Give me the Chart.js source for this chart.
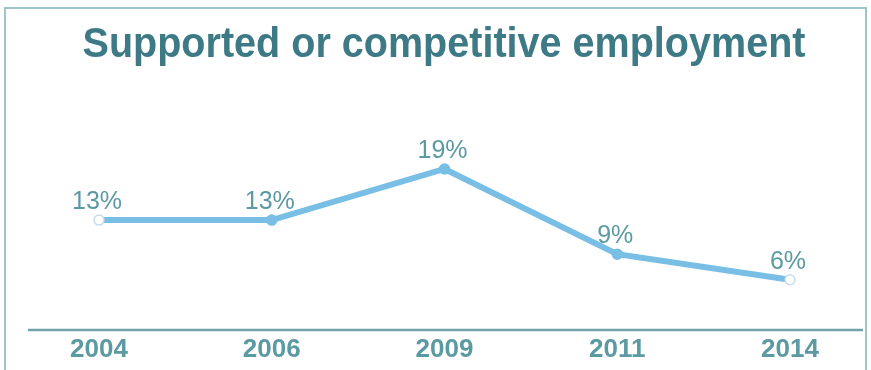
<!DOCTYPE html>
<html>
<head>
<meta charset="utf-8">
<script src="https://cdn.jsdelivr.net/npm/chart.js@4"></script>
<style>
  html, body { margin: 0; padding: 0; background: #fff; }
  #wrap { width: 871px; height: 370px; }
</style>
</head>
<body>
<div id="wrap"><canvas id="chart" width="871" height="370"></canvas></div>
<script>
const years = ["2004", "2006", "2009", "2011", "2014"];
const shares = [13, 13, 19, 9, 6];
const shareLabels = ["13%", "13%", "19%", "9%", "6%"];
const chartTitle = "Supported or competitive employment";

const lineBlue = "#78bee5";
const teal = "#5b9aa2";
const fontFamily = "'Liberation Sans', Arial, sans-serif";

// frame, title, baseline and value labels
const decorations = {
  id: "decorations",
  beforeDraw(chart) {
    const ctx = chart.ctx;
    ctx.save();
    ctx.strokeStyle = "#9cc4c9";
    ctx.lineWidth = 2;
    ctx.strokeRect(5, 8, 861, 380);

    // the title is wider than the plot area, so it is drawn here
    ctx.font = "bold 42px " + fontFamily;
    ctx.fillStyle = "#3d7a85";
    ctx.textAlign = "center";
    ctx.textBaseline = "middle";
    ctx.fillText(chartTitle, 444, 45.5, 723);
    ctx.restore();
  },
  beforeDatasetsDraw(chart) {
    const ctx = chart.ctx;
    ctx.save();
    ctx.strokeStyle = "#6fa4ab";
    ctx.lineWidth = 2.5;
    ctx.beginPath();
    ctx.moveTo(28, 330);
    ctx.lineTo(863, 330);
    ctx.stroke();
    ctx.restore();
  },
  afterDatasetsDraw(chart) {
    const ctx = chart.ctx;
    const meta = chart.getDatasetMeta(0);
    ctx.save();
    ctx.font = "25px " + fontFamily;
    ctx.fillStyle = teal;
    ctx.textAlign = "center";
    ctx.textBaseline = "middle";
    meta.data.forEach((pt, i) => {
      ctx.fillText(shareLabels[i], pt.x - 2, pt.y - 18);
    });
    ctx.restore();
  }
};

new Chart(document.getElementById("chart"), {
  type: "line",
  data: {
    labels: years,
    datasets: [{
      data: shares,
      borderColor: lineBlue,
      borderWidth: 6,
      pointRadius: 5,
      pointBorderWidth: 1.5,
      pointBorderColor: ["#c9dbe6", lineBlue, lineBlue, lineBlue, "#c9dbe6"],
      pointBackgroundColor: ["#ffffff", lineBlue, lineBlue, lineBlue, "#ffffff"],
      tension: 0
    }]
  },
  options: {
    responsive: false,
    animation: false,
    layout: { padding: { left: 99, right: 81, top: 117.9, bottom: 2 } },
    plugins: {
      legend: { display: false },
      tooltip: { enabled: false },
      title: { display: false }
    },
    scales: {
      x: {
        offset: false,
        grid: { display: false, drawTicks: false },
        border: { display: false },
        ticks: {
          color: teal,
          padding: 3,
          maxRotation: 0,
          font: { family: fontFamily, size: 26, weight: "bold" }
        }
      },
      y: {
        display: false,
        min: 0,
        max: 25
      }
    }
  },
  plugins: [decorations]
});
</script>
</body>
</html>
